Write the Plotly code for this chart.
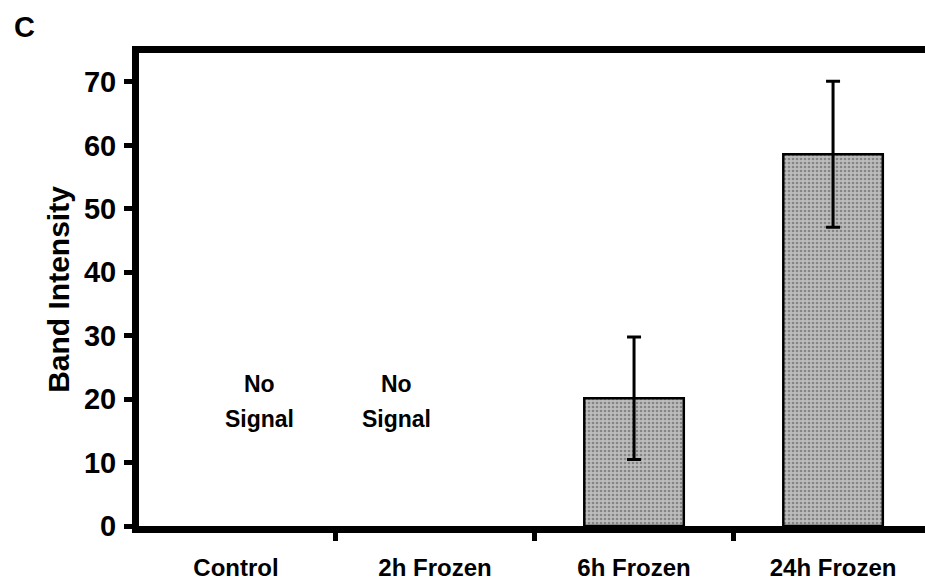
import plotly.graph_objects as go

# Western blot densitometry, panel C
categories = ["Control", "2h Frozen", "6h Frozen", "24h Frozen"]
band_intensity = [None, None, 20.15, 58.6]
intensity_err = [None, None, 9.65, 11.5]
y_ticks = [0, 10, 20, 30, 40, 50, 60, 70]
no_signal_groups = [0.12, 0.806]   # positions of the "No Signal" notes on the category axis

FONT = "Liberation Sans, Arial, Helvetica, sans-serif"


def bold(size):
    return dict(family=FONT, size=size, color="black", weight="bold")


fig = go.Figure()
fig.add_trace(go.Bar(
    x=categories,
    y=band_intensity,
    width=0.5,
    marker=dict(
        color="#b5b5b5",
        line=dict(color="black", width=2.5),
        pattern=dict(shape=".", bgcolor="#bdbdbd", fgcolor="#858585",
                     size=4, solidity=0.35, fillmode="replace"),
    ),
    error_y=dict(type="data", array=intensity_err, visible=True,
                 color="black", thickness=3, width=7),
    showlegend=False,
))

for xpos in no_signal_groups:
    fig.add_annotation(x=xpos, y=22.4, xref="x", yref="y", text="No",
                       showarrow=False, font=bold(23))
    fig.add_annotation(x=xpos, y=16.8, xref="x", yref="y", text="Signal",
                       showarrow=False, font=bold(23))

# panel letter
fig.add_annotation(x=-0.1616, y=1.055, xref="paper", yref="paper", text="C",
                   xanchor="left", yanchor="middle", showarrow=False,
                   font=bold(29))

fig.update_layout(
    width=925, height=587,
    margin=dict(l=139, r=0, t=53, b=61, pad=0),
    paper_bgcolor="white", plot_bgcolor="white",
    font=dict(family=FONT, color="black"),
)

fig.update_xaxes(
    type="category",
    categoryorder="array", categoryarray=categories,
    range=[-0.4874, 3.462],
    showline=True, linewidth=7, linecolor="black", mirror=True,
    ticks="outside", tickson="boundaries", ticklen=8, tickwidth=5, tickcolor="black",
    tickfont=bold(24),
    ticklabelstandoff=14,
    showgrid=False, zeroline=False,
)

fig.update_yaxes(
    range=[0, 74.57],
    tickvals=y_ticks,
    showline=True, linewidth=7, linecolor="black",
    ticks="outside", ticklen=8, tickwidth=5, tickcolor="black",
    tickfont=bold(29),
    ticklabelstandoff=2,
    title=dict(text="Band Intensity", font=bold(30), standoff=8),
    showgrid=False, zeroline=False,
)

fig.write_html("out.html")
